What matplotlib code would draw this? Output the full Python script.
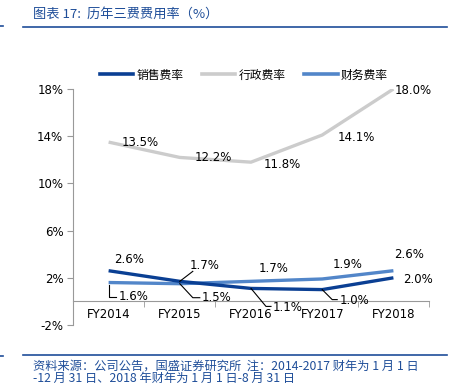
import matplotlib.pyplot as plt
from matplotlib.lines import Line2D

plt.rcParams['font.family'] = ['DejaVu Sans', 'Noto Sans CJK SC']

years = ['FY2014', 'FY2015', 'FY2016', 'FY2017', 'FY2018']
sales = [2.6, 1.7, 1.1, 1.0, 2.0]
admin = [13.5, 12.2, 11.8, 14.1, 18.0]
finance = [1.6, 1.5, 1.7, 1.9, 2.6]
series_names = ['销售费率', '行政费率', '财务费率']
yticks = [-2, 2, 6, 10, 14, 18]

c_sales = '#0a3f93'
c_admin = '#cccccc'
c_fin = '#5286c9'
blue = '#1f4e99'

fig = plt.figure(figsize=(4.6, 3.83), dpi=100)
ax = fig.add_axes([73/460, 1-325/383, 356/460, 236/383])

x = list(range(len(years)))
ax.plot(x, admin, color=c_admin, lw=2.4, solid_capstyle='butt', zorder=2)
ax.plot(x, finance, color=c_fin, lw=2.4, solid_capstyle='butt', zorder=3)
ax.plot(x, sales, color=c_sales, lw=2.4, solid_capstyle='butt', zorder=4)

ax.set_xlim(-0.5, 4.5)
ax.set_ylim(-2, 18)
ax.set_yticks(yticks)
ax.set_yticklabels([f'{v}%' for v in yticks])
ax.set_xticks(x)
ax.set_xticklabels(years)
ax.set_xticks([i + 0.5 for i in range(-1, 5)], minor=True)

for s in ['top', 'right']:
    ax.spines[s].set_visible(False)
ax.spines['bottom'].set_position(('data', 0))
ax.spines['left'].set_color('#999999')
ax.spines['bottom'].set_color('#999999')
ax.tick_params(axis='y', direction='out', length=4, color='#999999', labelsize=8.5, pad=3)
ax.tick_params(axis='x', which='major', length=0, labelsize=8.5, pad=5)
ax.tick_params(axis='x', which='minor', direction='out', length=4, color='#999999')

fs = 8.5
def lab(xi, yv, txt, dx, dy, ha='left'):
    ax.annotate(txt, (xi, yv), xytext=(dx, dy), textcoords='offset pixels',
                fontsize=fs, ha=ha, va='center', zorder=6)

def leader(xi, yv, pts):
    # leader line, points given as pixel offsets (right, down) from the data point
    bx, by = ax.transData.transform((xi, yv))
    inv = ax.transData.inverted()
    xy = [inv.transform((bx + px, by - py)) for px, py in pts]
    ax.plot([p[0] for p in xy], [p[1] for p in xy], color='black', lw=0.8, zorder=5,
            clip_on=False)

# admin labels
lab(0, admin[0], '13.5%', 13, 0)
lab(1, admin[1], '12.2%', 15, 0)
lab(2, admin[2], '11.8%', 13, -2)
lab(3, admin[3], '14.1%', 15, -2)
lab(4, admin[4], '18.0%', 1, -2)

# sales labels
lab(0, sales[0], '2.6%', 6, 11)
lab(1, sales[1], '1.7%', 10, 16)
lab(4, sales[4], '2.0%', 10, -2)
# finance labels
lab(2, finance[2], '1.7%', 8, 13)
lab(3, finance[3], '1.9%', 10, 14)
lab(4, finance[4], '2.6%', 1, 16)

fig.canvas.draw()
leader(1, sales[1], [(0, 0), (13, -10)])
leader(2, sales[2], [(0, 0), (15, 18), (20, 18)])
leader(3, sales[3], [(0, 0), (10, 10), (15, 10)])
leader(0, finance[0], [(0, 2), (0, 14), (7, 14)])
leader(1, finance[1], [(0, 0), (13, 14), (20, 14)])
lab(2, sales[2], '1.1%', 22, -19)
lab(3, sales[3], '1.0%', 17, -11)
lab(0, finance[0], '1.6%', 10, -14)
lab(1, finance[1], '1.5%', 22, -14)

handles = [Line2D([], [], color=c, lw=2.6) for c in (c_sales, c_admin, c_fin)]
fig.legend(handles, series_names, loc='center', bbox_to_anchor=(0.53, 1-75/383),
           ncol=3, frameon=False, handlelength=2.8, handletextpad=0.3,
           columnspacing=1.6, prop={'family': ['Noto Sans CJK SC'], 'size': 8.5})

# header / footer
fig.add_artist(Line2D([23/460, 447/460], [1-27/383, 1-27/383], color=blue, lw=1.2))
fig.add_artist(Line2D([0, 3/460], [1-26/383, 1-26/383], color=blue, lw=1.2))
fig.add_artist(Line2D([23/460, 447/460], [1-355/383, 1-355/383], color=blue, lw=1.2))
fig.add_artist(Line2D([0, 3/460], [1-356/383, 1-356/383], color=blue, lw=1.2))
cjk = ['Noto Sans CJK SC', 'DejaVu Sans']
fig.text(33/460, 1-14/383, '图表 17:  历年三费费用率（%）', fontsize=9.5, color=blue,
         family=cjk, va='center')
fig.text(33/460, 1-366/383, '资料来源：公司公告，国盛证券研究所  注：2014-2017 财年为 1 月 1 日',
         fontsize=8.8, color=blue, family=cjk, va='center')
fig.text(33/460, 1-378/383, '-12 月 31 日、2018 年财年为 1 月 1 日-8 月 31 日',
         fontsize=8.8, color=blue, family=cjk, va='center')

fig.savefig('out.png', dpi=100)
